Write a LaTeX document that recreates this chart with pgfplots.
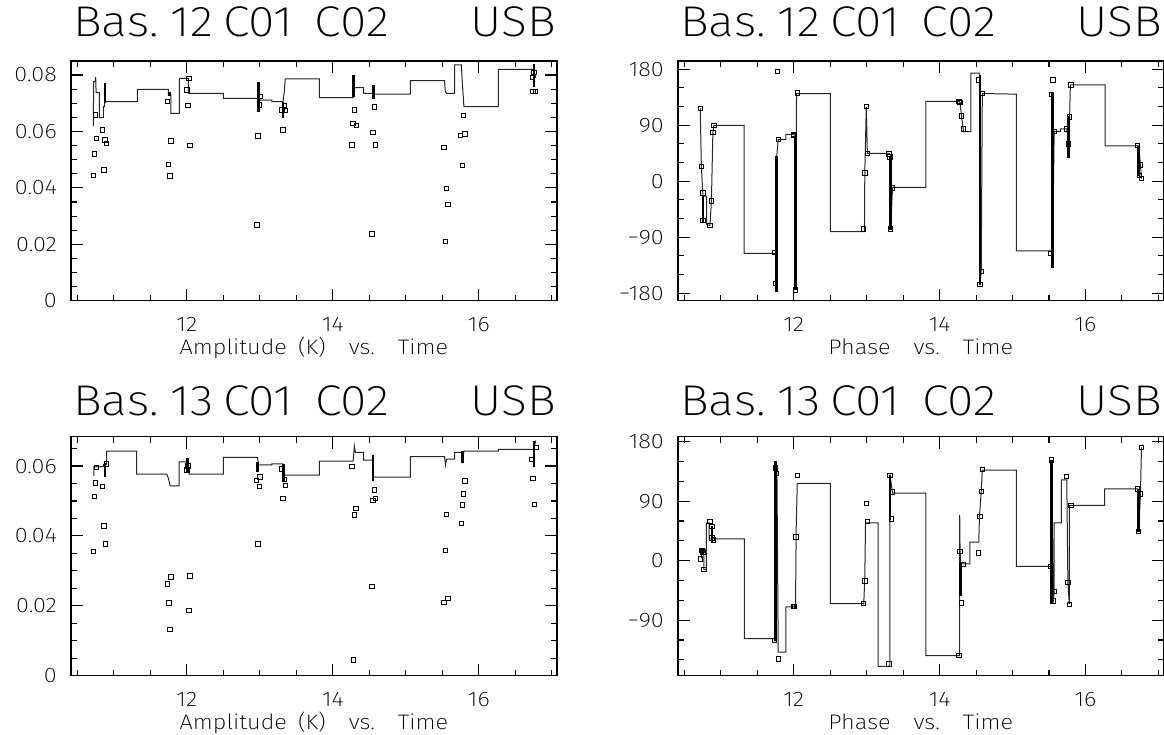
\documentclass[border=0pt]{standalone}
\usepackage{pgfplots}
\pgfplotsset{compat=1.18}
\usepackage{fontspec}
\setmainfont{Fira Sans}[UprightFont=* ExtraLight, FakeStretch=1.12]

\pgfplotsset{
  gild/.style={
    scale only axis, width=486pt, height=239.5pt,
    xmin=10.414, xmax=17.07,
    xtick={12,14,16},
    minor xtick={10.5,11,11.5,12.5,13,13.5,14.5,15,15.5,16.5,17},
    scaled y ticks=false,
    major tick length=12pt, minor tick length=6pt,
    axis line style={line width=1.4pt},
    every tick/.style={line width=1.1pt, black},
    tick label style={font=\fontsize{21}{24}\selectfont},
    /pgf/number format/assume math mode=true,
    xticklabel style={anchor=base, yshift=-31pt, inner sep=0pt},
    yticklabel style={anchor=east, xshift=-14pt, inner sep=0pt},
    xlabel style={at={(axis description cs:0.5,0)}, anchor=base, yshift=-54pt,
      inner sep=0pt, font=\fontsize{21}{24}\selectfont},
    clip=false,
  },
  amp/.style={minor ytick={0.005,0.01,0.015,0.025,0.03,0.035,0.045,0.05,0.055,0.065,0.07,0.075,0.085}},
  pha/.style={ytick={-180,-90,0,90,180}, yticklabels={−180,−90,0,90,180},
    minor ytick={-150,-120,-60,-30,30,60,120,150}},
  stepl/.style={black!85, line width=1pt, mark=none},
  heavy/.style={black, line width=2.6pt, mark=none},
  pts/.style={only marks, mark=square, mark size=2.2pt, mark options={black, line width=1pt}},
}
\newcommand{\ttl}{\fontsize{43}{48}\selectfont}
\newcommand{\amplab}{Amplitude\hspace{11pt}(K)\hspace{23pt}vs.\hspace{23pt}Time}
\newcommand{\phalab}{Phase\hspace{23pt}vs.\hspace{23pt}Time}

\begin{document}
\begin{tikzpicture}
\useasboundingbox (0,0) rectangle (1164pt,735pt);

% ---- top left: amplitude, baseline 12
\begin{axis}[gild, amp, at={(71pt,434.3pt)}, anchor=south west,
  ymin=0, ymax=0.0849, ytick={0,0.02,0.04,0.06,0.08},
  yticklabels={0,0.02,0.04,0.06,0.08},
  xlabel={\amplab}]
\addplot[stepl] coordinates {
 (10.719,0.0619) (10.725,0.0777) (10.745,0.0777) (10.752,0.0792) (10.758,0.0738)
 (10.801,0.0738) (10.801,0.0649) (10.856,0.0649) (10.856,0.0688) (10.872,0.0688)
 (10.879,0.0771) (10.879,0.0706) (11.322,0.0706) (11.322,0.0749) (11.748,0.0749)
 (11.748,0.0729) (11.781,0.0729) (11.781,0.0664) (11.899,0.0664) (11.899,0.0788)
 (12.022,0.0788) (12.022,0.0735) (12.502,0.0735) (12.502,0.0717) (12.982,0.0717)
 (13.005,0.0711) (13.166,0.0711) (13.166,0.0706) (13.317,0.0706) (13.335,0.0740)
 (13.348,0.0786) (13.815,0.0786) (13.815,0.0720) (14.285,0.0720) (14.299,0.0755)
 (14.423,0.0755) (14.423,0.0735) (14.560,0.0735) (14.565,0.0732) (15.063,0.0732)
 (15.063,0.0780) (15.530,0.0780) (15.540,0.0741) (15.557,0.0735) (15.667,0.0735)
 (15.667,0.0836) (15.759,0.0836) (15.772,0.0780) (15.795,0.0688) (16.266,0.0688)
 (16.266,0.0820) (16.755,0.0820) (16.778,0.0790)};
\addplot[heavy] coordinates {(10.879,0.0771) (10.879,0.0700)};
\addplot[heavy] coordinates {(11.760,0.0740) (11.760,0.0725)};
\addplot[heavy] coordinates {(12.982,0.0777) (12.982,0.0670)};
\addplot[heavy] coordinates {(13.317,0.0706) (13.317,0.0649)};
\addplot[heavy] coordinates {(14.285,0.0800) (14.285,0.0723)};
\addplot[heavy] coordinates {(14.560,0.0765) (14.560,0.0714)};
\addplot[heavy] coordinates {(16.755,0.0839) (16.755,0.0759)};
\addplot[pts] coordinates {
 (10.752,0.0658) (10.719,0.0443) (10.733,0.0520) (10.765,0.0576) (10.848,0.0605)
 (10.879,0.0570) (10.903,0.0558) (10.866,0.0463)
 (11.739,0.0706) (11.748,0.0483) (11.771,0.0442) (11.785,0.0566)
 (12.000,0.0747) (12.032,0.0788) (12.014,0.0691) (12.045,0.0550)
 (12.960,0.0268) (12.974,0.0584) (12.992,0.0694) (13.005,0.0723)
 (13.303,0.0676) (13.335,0.0691) (13.348,0.0674) (13.317,0.0605)
 (14.263,0.0552) (14.277,0.0629) (14.322,0.0622) (14.299,0.0676)
 (14.538,0.0236) (14.551,0.0597) (14.569,0.0686) (14.587,0.0552)
 (15.786,0.0656) (15.749,0.0585) (15.808,0.0591) (15.772,0.0479)
 (15.520,0.0544) (15.557,0.0398) (15.575,0.0342) (15.541,0.0209)
 (16.733,0.0791) (16.755,0.0809) (16.741,0.0741) (16.778,0.0741)};
\end{axis}
\node[anchor=base west, font=\ttl, inner sep=0pt] at (73pt,698pt) {Bas.\hspace{12pt}12\hspace{10pt}C01\hspace{22pt}C02};
\node[anchor=base east, font=\ttl, inner sep=0pt] at (556pt,698pt) {USB};

% ---- top right: phase, baseline 12
\begin{axis}[gild, pha, at={(678pt,434.3pt)}, anchor=south west, width=485.5pt,
  ymin=-192, ymax=193,
  xlabel={\phalab}]
\addplot[stepl] coordinates {
 (10.719,117) (10.734,24) (10.754,-19) (10.754,-24) (10.808,-24) (10.808,-70)
 (10.852,-71) (10.872,-32) (10.892,78) (10.906,90) (11.320,90) (11.320,-116)
 (11.768,-116) (11.768,40) (11.788,67.4) (11.892,67.4) (11.892,75.4) (12.000,75.4)
 (12.025,73) (12.025,-175) (12.039,141) (12.502,141) (12.502,-81) (12.970,-81)
 (12.975,13.5) (12.995,119.6) (13.010,44.7) (13.305,44.7) (13.320,42.6) (13.330,39.3)
 (13.330,-78) (13.355,-10) (13.813,-10) (13.813,128.3) (14.266,128.3) (14.281,126.6)
 (14.300,105) (14.325,83.5) (14.325,79.8) (14.429,79.8) (14.429,174) (14.547,174)
 (14.552,163) (14.552,-167) (14.571,-145.5) (14.586,141) (15.054,140) (15.054,-112)
 (15.522,-112) (15.537,-116) (15.547,143) (15.547,-140) (15.571,80) (15.655,80)
 (15.655,84) (15.744,84) (15.768,60) (15.783,103.5) (15.793,155) (16.271,155)
 (16.271,57) (16.729,57) (16.754,26) (16.768,4)};
\addplot[heavy] coordinates {(10.754,-24) (10.754,-65)};
\addplot[heavy] coordinates {(11.768,40) (11.768,-178)};
\addplot[heavy] coordinates {(12.025,73) (12.025,-175)};
\addplot[heavy] coordinates {(13.330,40) (13.330,-78)};
\addplot[heavy] coordinates {(14.552,170) (14.552,-167)};
\addplot[heavy] coordinates {(15.547,143) (15.547,-140)};
\addplot[heavy] coordinates {(15.768,105) (15.768,38)};
\addplot[heavy] coordinates {(16.729,57) (16.729,8)};
\addplot[pts] coordinates {
 (10.719,117) (10.734,24) (10.754,-19) (10.754,-63) (10.852,-71) (10.872,-32)
 (10.892,78) (10.906,90)
 (11.739,-115) (11.754,-164) (11.778,176) (11.788,67)
 (12.000,75) (12.005,74) (12.025,-175) (12.049,142)
 (12.961,-77) (12.975,13.5) (12.995,120) (13.010,45)
 (13.305,44) (13.320,39) (13.330,-77) (13.355,-11)
 (14.266,128) (14.281,127) (14.300,105) (14.325,84)
 (14.537,163) (14.552,-166) (14.571,-145.5) (14.586,141)
 (15.522,-116) (15.537,139) (15.557,163) (15.571,80)
 (15.744,84) (15.768,60) (15.783,103.5) (15.803,155)
 (16.714,57) (16.754,26) (16.739,9) (16.768,4)};
\end{axis}
\node[anchor=base west, font=\ttl, inner sep=0pt] at (680pt,698pt) {Bas.\hspace{12pt}12\hspace{10pt}C01\hspace{22pt}C02};
\node[anchor=base east, font=\ttl, inner sep=0pt] at (1162pt,698pt) {USB};

% ---- bottom left: amplitude, baseline 13
\begin{axis}[gild, amp, at={(71pt,59.3pt)}, anchor=south west, height=239pt,
  ymin=0, ymax=0.0684, ytick={0,0.02,0.04,0.06},
  yticklabels={0,0.02,0.04,0.06},
  xlabel={\amplab}]
\addplot[stepl] coordinates {
 (10.728,0.0571) (10.728,0.0598) (10.856,0.0598) (10.856,0.0605) (10.903,0.0605)
 (10.903,0.0643) (11.314,0.0643) (11.314,0.0577) (11.726,0.0577) (11.748,0.0565)
 (11.771,0.0543) (11.894,0.0543) (11.894,0.0612) (12.009,0.0612) (12.032,0.0577)
 (12.502,0.0577) (12.502,0.0625) (12.969,0.0625) (12.982,0.0603) (13.166,0.0603)
 (13.166,0.0606) (13.317,0.0606) (13.335,0.0574) (13.815,0.0574) (13.815,0.0614)
 (14.277,0.0614) (14.295,0.0657) (14.309,0.0639) (14.423,0.0639) (14.423,0.0617)
 (14.551,0.0617) (14.560,0.0568) (15.063,0.0568) (15.063,0.0627) (15.530,0.0627)
 (15.543,0.0603) (15.557,0.0620) (15.667,0.0620) (15.667,0.0639) (15.772,0.0639)
 (15.772,0.0608) (15.795,0.0643) (16.266,0.0643) (16.266,0.0648) (16.755,0.0648)
 (16.778,0.0673)};
\addplot[heavy] coordinates {(10.879,0.0610) (10.879,0.0568)};
\addplot[heavy] coordinates {(12.009,0.0622) (12.009,0.0584)};
\addplot[heavy] coordinates {(12.969,0.0612) (12.969,0.0584)};
\addplot[heavy] coordinates {(13.326,0.0606) (13.326,0.0555)};
\addplot[heavy] coordinates {(14.551,0.0632) (14.551,0.0558)};
\addplot[heavy] coordinates {(15.772,0.0643) (15.772,0.0608)};
\addplot[heavy] coordinates {(16.755,0.0673) (16.755,0.0596)};
\addplot[pts] coordinates {
 (10.719,0.0355) (10.733,0.0512) (10.752,0.0552) (10.765,0.0596) (10.848,0.0541)
 (10.866,0.0428) (10.884,0.0377) (10.903,0.0606)
 (11.739,0.0262) (11.757,0.0208) (11.771,0.0132) (11.785,0.0283)
 (12.000,0.0589) (12.014,0.0600) (12.032,0.0186) (12.045,0.0285)
 (12.951,0.0558) (12.974,0.0377) (12.997,0.0541) (13.005,0.0569)
 (13.303,0.0591) (13.317,0.0507) (13.335,0.0562) (13.348,0.0544)
 (14.263,0.0598) (14.299,0.0460) (14.318,0.0479) (14.282,0.0045)
 (14.538,0.0256) (14.551,0.0501) (14.569,0.0531) (14.587,0.0507)
 (15.520,0.0209) (15.575,0.0221) (15.543,0.0359) (15.557,0.0462)
 (15.758,0.0436) (15.772,0.0488) (15.786,0.0520) (15.808,0.0557)
 (16.723,0.0618) (16.782,0.0653) (16.741,0.0564) (16.760,0.0490)};
\end{axis}
\node[anchor=base west, font=\ttl, inner sep=0pt] at (73pt,319pt) {Bas.\hspace{12pt}13\hspace{10pt}C01\hspace{22pt}C02};
\node[anchor=base east, font=\ttl, inner sep=0pt] at (556pt,319pt) {USB};

% ---- bottom right: phase, baseline 13
\begin{axis}[gild, pha, at={(678pt,59.3pt)}, anchor=south west, width=485.5pt, height=239pt,
  ymin=-174, ymax=187.5, ytick={-90,0,90,180}, yticklabels={−90,0,90,180},
  xlabel={\phalab}]
\addplot[stepl] coordinates {
 (10.734,4) (10.734,16.6) (10.768,14) (10.768,-13.6) (10.803,-13.6) (10.803,57)
 (10.842,57) (10.842,33) (11.325,33) (11.325,-118) (11.739,-118) (11.754,-121)
 (11.754,151) (11.770,140) (11.788,-138.5) (11.892,-138.5) (11.892,-70) (12.025,-70)
 (12.034,47) (12.049,117) (12.502,117) (12.502,-65) (12.961,-65) (12.975,-24)
 (12.985,57) (13.158,57) (13.158,-160) (13.305,-160) (13.320,-156.5) (13.320,130)
 (13.355,102) (13.813,102) (13.813,-143.5) (14.276,-143.5) (14.276,69) (14.281,14)
 (14.291,-5) (14.414,-5) (14.414,28) (14.537,28) (14.547,67) (14.571,105)
 (14.586,137) (15.054,137) (15.054,-8.5) (15.537,-8.5) (15.537,152) (15.557,-64)
 (15.571,-47) (15.571,57) (15.670,57) (15.670,122) (15.744,122) (15.759,-33)
 (15.778,-66) (15.778,83.5) (16.261,83.5) (16.261,108.6) (16.714,108.6) (16.729,44)
 (16.754,100) (16.768,171.5)};
\addplot[heavy] coordinates {(10.759,16) (10.759,10)};
\addplot[heavy] coordinates {(10.882,52) (10.882,27)};
\addplot[heavy] coordinates {(11.754,151) (11.754,-121)};
\addplot[heavy] coordinates {(12.020,-67) (12.020,-72)};
\addplot[heavy] coordinates {(13.320,130) (13.320,62)};
\addplot[heavy] coordinates {(14.286,-3.5) (14.286,-54)};
\addplot[heavy] coordinates {(15.537,152) (15.537,-64)};
\addplot[heavy] coordinates {(16.729,108.6) (16.729,44)};
\addplot[pts] coordinates {
 (10.719,2.5) (10.744,15) (10.759,13) (10.773,-13.6) (10.852,59) (10.882,52)
 (10.882,34) (10.901,31)
 (11.739,-121) (11.754,140) (11.768,132) (11.788,-148.5)
 (12.000,-69) (12.015,-69) (12.034,36) (12.049,129)
 (12.961,-65) (12.975,-31) (12.995,86.5) (13.010,59)
 (13.305,-156.5) (13.320,129) (13.340,63) (13.355,104)
 (14.266,-143.5) (14.281,14) (14.300,-64) (14.325,-6)
 (14.537,11.6) (14.552,67) (14.571,105) (14.586,138)
 (15.522,-8.5) (15.537,152) (15.557,-61) (15.571,-47)
 (15.744,127) (15.759,-33) (15.778,-66) (15.803,83.5)
 (16.714,108.6) (16.729,44) (16.754,100.6) (16.768,171.5)};
\end{axis}
\node[anchor=base west, font=\ttl, inner sep=0pt] at (680pt,319pt) {Bas.\hspace{12pt}13\hspace{10pt}C01\hspace{22pt}C02};
\node[anchor=base east, font=\ttl, inner sep=0pt] at (1162pt,319pt) {USB};
\end{tikzpicture}
\end{document}
